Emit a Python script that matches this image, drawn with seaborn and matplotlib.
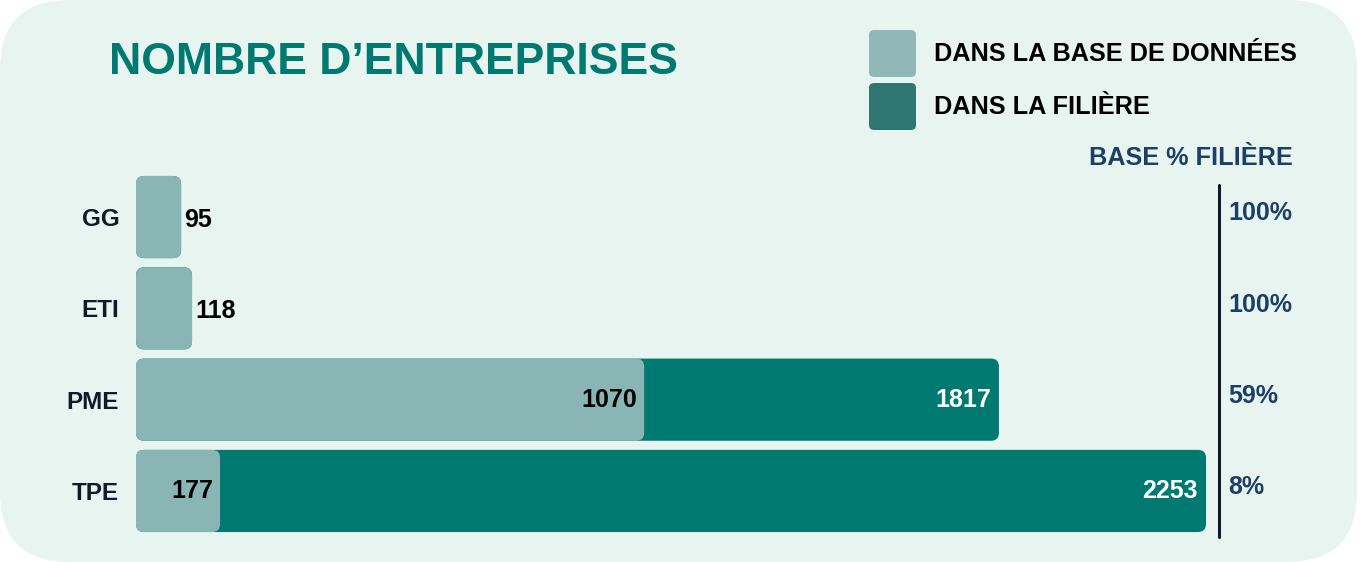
import matplotlib
matplotlib.use("Agg")
import matplotlib.pyplot as plt
import seaborn as sns
import numpy as np
import pandas as pd
from matplotlib.patches import FancyBboxPatch
from matplotlib.lines import Line2D
import matplotlib.transforms as mtransforms

categories = ["GG", "ETI", "PME", "TPE"]
base_values = [95, 118, 1070, 177]
filiere_values = [95, 118, 1817, 2253]
pct_labels = ["100%", "100%", "59%", "8%"]
legend_labels = ["DANS LA BASE DE DONNÉES", "DANS LA FILIÈRE"]
title = "NOMBRE D\u2019ENTREPRISES"
pct_title = "BASE % FILIÈRE"

W, H = 1367, 562
BG = "#e8f4f0"
LIGHT = "#8ab5b5"
DARK = "#007a70"
LEG_LIGHT = "#8fb8b6"
LEG_DARK = "#2e7672"
NAVY = "#1c3f66"
INK = "#0d1b2a"

sns.set_theme(style="white")
plt.rcParams["font.family"] = ["Liberation Sans", "DejaVu Sans"]

fig = plt.figure(figsize=(W / 100, H / 100), dpi=100)
fig.patch.set_facecolor("white")

def fx(px):
    return px / W

def fy(py):
    return 1 - py / H

# rounded background panel
bg = FancyBboxPatch((0, 0), fx(1357), 1.0,
                    boxstyle="round,pad=0,rounding_size=%f" % (70 / W),
                    mutation_aspect=W / H, transform=fig.transFigure,
                    facecolor=BG, edgecolor="none", zorder=-10)
fig.add_artist(bg)

# axes placement
x0_px, x1_px = 136, 1206
top_px, bot_px = 171.4, 536.6
ax = fig.add_axes([fx(x0_px), fy(bot_px), fx(x1_px) - fx(x0_px), (bot_px - top_px) / H])
ax.set_facecolor("none")

df = pd.DataFrame({"cat": categories, "base": base_values, "filiere": filiere_values})
sns.barplot(data=df, x="filiere", y="cat", orient="h", color=DARK, width=0.9,
            saturation=1, ax=ax)
sns.barplot(data=df, x="base", y="cat", orient="h", color=LIGHT, width=0.9,
            saturation=1, ax=ax)
ax.set_xlim(0, max(filiere_values))
ax.set_ylim(3.5, -0.5)

# replace rectangles with rounded boxes
xu_per_px = max(filiere_values) / (x1_px - x0_px)
yu_per_px = 4 / (bot_px - top_px)
aspect = yu_per_px / xu_per_px
r = 8 * xu_per_px
rects = list(ax.patches)
for i, p in enumerate(rects):
    x, y = p.get_x(), p.get_y()
    w, h = p.get_width(), p.get_height()
    fb = FancyBboxPatch((x, y), w, h,
                        boxstyle="round,pad=0,rounding_size=%f" % r,
                        mutation_aspect=aspect,
                        facecolor=p.get_facecolor(), edgecolor="none",
                        zorder=2 + (i >= len(categories)))
    p.remove()
    ax.add_patch(fb)

for s in ax.spines.values():
    s.set_visible(False)
ax.set_xticks([])
ax.set_xlabel("")
ax.set_ylabel("")
ax.tick_params(axis="y", length=0, pad=12)
for lbl in ax.get_yticklabels():
    lbl.set_fontsize(17.5)
    lbl.set_fontweight("bold")
    lbl.set_color(INK)

# value labels
offs = lambda dx: mtransforms.offset_copy(ax.transData, fig=fig, x=dx, y=0, units="dots")
for i, (b, f) in enumerate(zip(base_values, filiere_values)):
    if b == f:
        ax.text(b, i + 0.03, str(b), transform=offs(3), ha="left", va="center",
                fontsize=18, fontweight="bold", color="black", zorder=5)
    else:
        ax.text(b, i + 0.0, str(b), transform=offs(-7), ha="right", va="center",
                fontsize=18, fontweight="bold", color="black", zorder=5)
        ax.text(f, i + 0.0, str(f), transform=offs(-8), ha="right", va="center",
                fontsize=18, fontweight="bold", color="white", zorder=5)

# percentage column
blend = mtransforms.blended_transform_factory(fig.transFigure, ax.transData)
for i, t in enumerate(pct_labels):
    ax.text(fx(1228), i - 0.04, t, transform=blend, ha="left", va="center",
            fontsize=18, fontweight="bold", color=NAVY, zorder=5, clip_on=False)

fig.add_artist(Line2D([fx(1219), fx(1219)], [fy(185), fy(537)],
                      transform=fig.transFigure, color=INK, linewidth=2.2))

# title
fig.text(fx(109), fy(63), title, ha="left", va="center", fontsize=32,
         fontweight="bold", color=DARK)

# legend
for j, (lab, col) in enumerate(zip(legend_labels, [LEG_LIGHT, LEG_DARK])):
    top = 30 + j * 53
    sq = FancyBboxPatch((fx(869), fy(top + 47)), fx(47), 47 / H,
                        boxstyle="round,pad=0,rounding_size=%f" % (5 / W),
                        mutation_aspect=W / H, transform=fig.transFigure,
                        facecolor=col, edgecolor="none")
    fig.add_artist(sq)
    fig.text(fx(934), fy(top + 24), lab, ha="left", va="center", fontsize=18.2,
             fontweight="bold", color="black")

fig.text(fx(1293), fy(158), pct_title, ha="right", va="center", fontsize=18.2,
         fontweight="bold", color=NAVY)

fig.savefig("out.png", dpi=100, facecolor=fig.get_facecolor())
